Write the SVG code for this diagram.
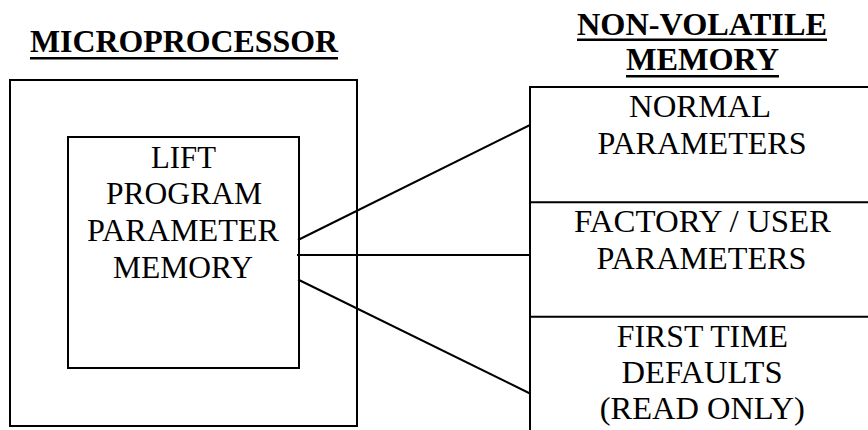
<svg xmlns="http://www.w3.org/2000/svg" width="868" height="430" viewBox="0 0 868 430">
<style>
.box{fill:none;stroke:#000;stroke-width:2}
.conn line{stroke:#000;stroke-width:2}
.t{font-size:32px}
.h{font-size:32px;font-weight:bold}
.ul{fill:#000}
</style>
<rect width="868" height="430" fill="#fff"/>
<g font-family="Liberation Serif, serif" fill="#000" text-anchor="middle">
<g id="title-microprocessor">
<text class="h" x="184" y="52" textLength="308" lengthAdjust="spacingAndGlyphs">MICROPROCESSOR</text>
<rect class="ul" x="30" y="57" width="308" height="2.5"/>
</g>
<g id="title-nvm">
<text class="h" x="702" y="35" textLength="250" lengthAdjust="spacingAndGlyphs">NON-VOLATILE</text>
<rect class="ul" x="577" y="38.5" width="250" height="2.5"/>
<text class="h" x="702.5" y="70" textLength="153" lengthAdjust="spacingAndGlyphs">MEMORY</text>
<rect class="ul" x="626" y="75" width="153" height="2.5"/>
</g>
<g id="microprocessor">
<rect class="box" x="10" y="80" width="347" height="346"/>
</g>
<g id="lift-program-memory">
<rect class="box" x="68" y="137" width="231" height="231"/>
<text class="t" x="183.5" y="167.5" textLength="65" lengthAdjust="spacingAndGlyphs">LIFT</text>
<text class="t" x="184" y="204" textLength="156" lengthAdjust="spacingAndGlyphs">PROGRAM</text>
<text class="t" x="183" y="240.7" textLength="192" lengthAdjust="spacingAndGlyphs">PARAMETER</text>
<text class="t" x="183" y="277.7" textLength="140" lengthAdjust="spacingAndGlyphs">MEMORY</text>
</g>
<g id="nvm">
<rect class="box" x="530" y="87" width="360" height="360"/>
</g>
<g id="normal-parameters">
<line x1="530" y1="202.3" x2="870" y2="202.3" stroke="#000" stroke-width="2"/>
<text class="t" x="700" y="117" textLength="142" lengthAdjust="spacingAndGlyphs">NORMAL</text>
<text class="t" x="702" y="154" textLength="209" lengthAdjust="spacingAndGlyphs">PARAMETERS</text>
</g>
<g id="factory-user-parameters">
<line x1="530" y1="316.7" x2="870" y2="316.7" stroke="#000" stroke-width="2"/>
<text class="t" x="702.5" y="232" textLength="257" lengthAdjust="spacingAndGlyphs">FACTORY / USER</text>
<text class="t" x="701.5" y="269" textLength="210" lengthAdjust="spacingAndGlyphs">PARAMETERS</text>
</g>
<g id="first-time-defaults">
<text class="t" x="702.3" y="347" textLength="171" lengthAdjust="spacingAndGlyphs">FIRST TIME</text>
<text class="t" x="702" y="383" textLength="161" lengthAdjust="spacingAndGlyphs">DEFAULTS</text>
<text class="t" x="702.2" y="419" textLength="205" lengthAdjust="spacingAndGlyphs">(READ ONLY)</text>
</g>
</g>
<g class="conn" id="connectors">
<line x1="298" y1="240" x2="530" y2="125"/>
<line x1="297" y1="255" x2="530" y2="255"/>
<line x1="298" y1="279.5" x2="530" y2="393.5"/>
</g>
</svg>
